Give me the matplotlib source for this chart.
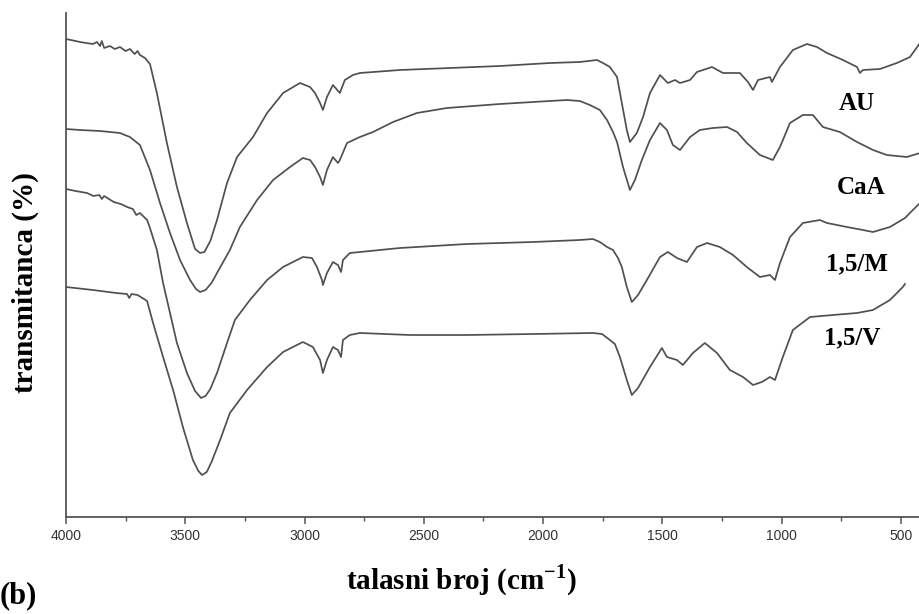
import numpy as np
import matplotlib
matplotlib.use("Agg")
from matplotlib import pyplot as plt
from matplotlib.ticker import MultipleLocator

plt.rcParams["mathtext.fontset"] = "custom"
plt.rcParams["mathtext.rm"] = "Liberation Serif"
plt.rcParams["mathtext.bf"] = "Liberation Serif:bold"

# FTIR spectra (wavenumber in cm-1, transmittance in a.u., curves already offset)
au_wn = [4000, 3960, 3941, 3915, 3887, 3870, 3857, 3850, 3840, 3816, 3795, 3774, 3750, 3732,
         3712, 3700, 3690, 3669, 3648, 3619, 3577, 3535, 3493, 3459, 3438, 3420, 3395, 3367,
         3325, 3283, 3216, 3157, 3090, 3019, 2977, 2956, 2935, 2923, 2906, 2881, 2852, 2831,
         2797, 2768, 2600, 2390, 2181, 1971, 1846, 1774, 1749, 1720, 1690, 1670, 1649, 1636,
         1607, 1581, 1552, 1510, 1477, 1447, 1426, 1384, 1355, 1292, 1246, 1175, 1141, 1120,
         1099, 1049, 1041, 1007, 953, 894, 852, 810, 743, 684, 672, 659, 588, 517, 462, 420]
au_t = [478, 476, 475, 474, 473, 475, 471, 476, 469, 471, 468, 470, 466, 468,
        463, 466, 462, 459, 453, 424, 374, 330, 294, 268, 264, 265, 276, 297,
        334, 360, 380, 404, 424, 434, 430, 424, 414, 407, 420, 432, 424, 437,
        442, 444, 447, 449, 451, 454, 455, 457, 454, 450, 440, 414, 387, 375,
        384, 400, 424, 442, 434, 437, 434, 437, 445, 450, 444, 444, 435, 427,
        437, 440, 435, 450, 467, 473, 470, 464, 457, 450, 444, 447, 448, 454, 460, 474]

caa_wn = [4000, 3941, 3857, 3774, 3732, 3690, 3648, 3606, 3564, 3522, 3480, 3455, 3438, 3415,
          3390, 3367, 3313, 3271, 3199, 3132, 3061, 3007, 2977, 2956, 2935, 2923, 2906, 2881,
          2860, 2852, 2822, 2768, 2713, 2629, 2529, 2403, 2181, 2042, 1900, 1846, 1804, 1762,
          1732, 1707, 1690, 1665, 1636, 1615, 1586, 1552, 1510, 1481, 1456, 1426, 1384, 1343,
          1288, 1229, 1187, 1146, 1091, 1037, 1007, 965, 911, 869, 827, 756, 684, 617, 559,
          475, 420]
caa_t = [388, 387, 386, 384, 380, 372, 347, 314, 284, 257, 237, 228, 225, 227,
         234, 244, 267, 290, 317, 337, 350, 359, 357, 350, 340, 332, 347, 360,
         354, 357, 374, 380, 385, 395, 404, 409, 413, 415, 417, 416, 412, 407,
         397, 385, 375, 350, 327, 337, 357, 377, 394, 387, 372, 367, 380, 387,
         389, 390, 385, 374, 362, 357, 370, 394, 402, 402, 390, 385, 375, 367, 362,
         360, 364]

m_wn = [4000, 3960, 3912, 3885, 3860, 3850, 3840, 3800, 3770, 3744, 3720, 3705, 3690, 3660,
        3648, 3619, 3593, 3564, 3535, 3493, 3459, 3434, 3415, 3395, 3367, 3325, 3292, 3229,
        3157, 3090, 3007, 2969, 2948, 2927, 2923, 2906, 2881, 2860, 2847, 2839, 2810, 2768,
        2600, 2319, 2042, 1846, 1791, 1762, 1732, 1707, 1686, 1670, 1649, 1628, 1602, 1565,
        1510, 1477, 1439, 1397, 1355, 1313, 1259, 1204, 1146, 1091, 1049, 1028, 1007, 965,
        911, 840, 810, 726, 659, 617, 546, 483, 450, 420]
m_t = [328, 326, 324, 321, 322, 318, 321, 315, 313, 310, 308, 302, 304, 297,
       289, 267, 234, 204, 174, 144, 126, 119, 121, 128, 144, 174, 197, 217,
       237, 250, 260, 259, 250, 237, 232, 244, 255, 252, 245, 257, 264, 265,
       269, 273, 275, 277, 278, 275, 270, 267, 259, 250, 230, 215, 222, 237,
       260, 265, 259, 255, 270, 274, 270, 262, 250, 240, 242, 237, 254, 280,
       294, 297, 294, 290, 287, 285, 290, 299, 307, 314]

v_wn = [4000, 3887, 3790, 3744, 3735, 3725, 3700, 3660, 3635, 3593, 3551, 3510, 3468, 3445,
        3430, 3410, 3390, 3354, 3313, 3241, 3157, 3090, 3007, 2965, 2935, 2923, 2906, 2881,
        2860, 2847, 2839, 2810, 2768, 2558, 2319, 2042, 1791, 1753, 1720, 1699, 1678, 1649,
        1628, 1602, 1552, 1502, 1481, 1439, 1414, 1372, 1322, 1271, 1217, 1162, 1120, 1083,
        1049, 1028, 995, 953, 881, 785, 684, 617, 546, 492, 483]
v_t = [230, 227, 224, 223, 219, 223, 222, 216, 194, 160, 127, 90, 57, 46,
       42, 45, 55, 77, 104, 127, 150, 165, 175, 170, 157, 144, 157, 170,
       167, 160, 177, 182, 184, 182, 182, 183, 184, 183, 177, 173, 160, 137,
       122, 129, 150, 169, 160, 157, 152, 164, 174, 164, 147, 140, 132, 135,
       140, 137, 160, 187, 200, 202, 204, 207, 217, 230, 233]

series = [(au_wn, au_t), (caa_wn, caa_t), (m_wn, m_t), (v_wn, v_t)]
names = ["AU", "CaA", "1,5/M", "1,5/V"]
name_pos = [(684, 414), (668, 329), (684, 253), (705, 179)]

fig = plt.figure(figsize=(9.2, 6.14), dpi=100)
ax = fig.add_axes([66 / 920, 97 / 614, 854 / 920, 504 / 614])

for wn, t in series:
    ax.plot(wn, t, color="#505050", lw=1.25)

for name, (x, y) in zip(names, name_pos):
    ax.text(x, y, name, ha="center", va="center", fontsize=18,
            fontweight="bold", family="Liberation Serif", color="black")

ax.set_xlim(4000, 420)
ax.set_ylim(0, 504)
ax.xaxis.set_major_locator(MultipleLocator(500))
ax.xaxis.set_minor_locator(MultipleLocator(250))
ax.set_yticks([])
for s in ["top", "right"]:
    ax.spines[s].set_visible(False)
for s in ["left", "bottom"]:
    ax.spines[s].set_color("#555555")
    ax.spines[s].set_linewidth(1.3)
ax.tick_params(axis="x", which="major", direction="out", length=5, width=1.1,
               color="#555555", labelsize=10, labelcolor="#333333", pad=4)
ax.tick_params(axis="x", which="minor", direction="out", length=3, width=1.0, color="#555555")
for lab in ax.get_xticklabels():
    lab.set_family("Liberation Sans")

fig.text(0.501, 0.055, r"talasni broj (cm$^{\mathbf{-1}}$)", ha="center", va="center",
         fontsize=21, fontweight="bold", family="Liberation Serif")
fig.text(0.027, 0.54, "transmitanca (%)", ha="center", va="center", rotation=90,
         fontsize=21, fontweight="bold", family="Liberation Serif")
fig.text(0.0, 0.018, "(b)", ha="left", va="baseline",
         fontsize=22, fontweight="bold", family="Liberation Serif")

fig.savefig("out.png", dpi=100)
